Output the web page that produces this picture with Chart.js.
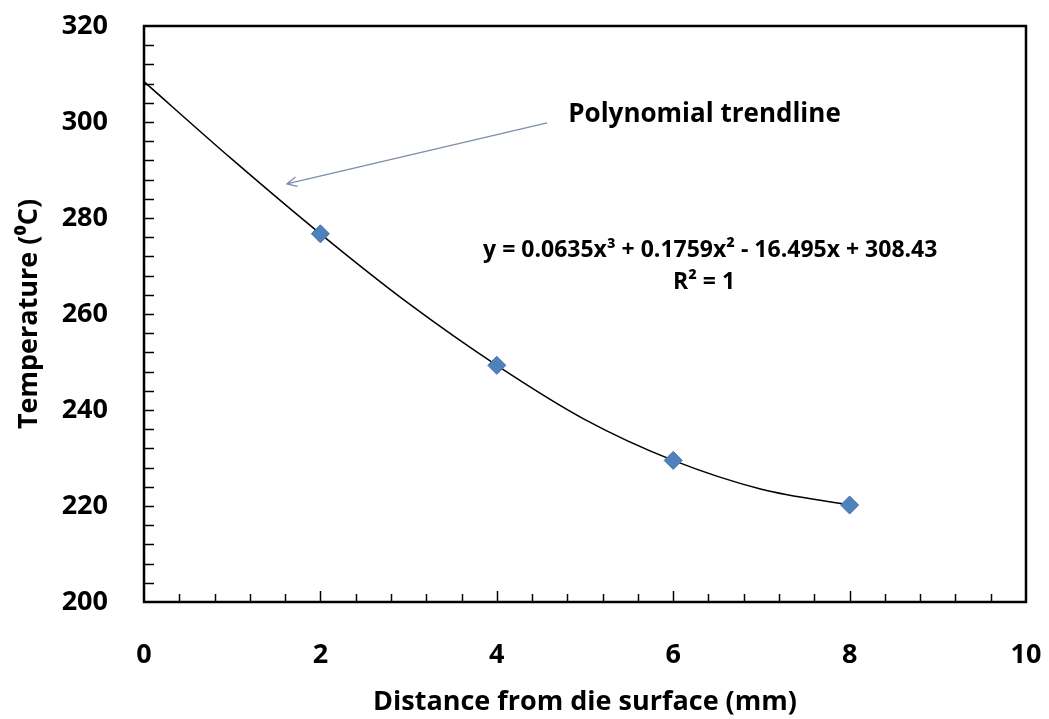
<!DOCTYPE html>
<html>
<head>
<meta charset="utf-8">
<script src="https://cdn.jsdelivr.net/npm/chart.js@4"></script>
<style>
  html, body { margin: 0; padding: 0; background: #fff; }
  #wrap { width: 1049px; height: 719px; }
</style>
</head>
<body>
<div id="wrap"><canvas id="chart" width="1049" height="719"></canvas></div>
<script>
// measured points (distance mm, temperature C)
const distances = [2, 4, 6, 8];
const temperatures = [276.7, 249.3, 229.5, 220.2];

// trendline
const trendX = [0, 1, 2, 3, 4, 5, 6, 7, 8];
const trendY = [308.4, 292.2, 276.7, 262.2, 249.3, 238.0, 229.5, 223.5, 220.2];

const xTicks = [0, 2, 4, 6, 8, 10];
const yTicks = [200, 220, 240, 260, 280, 300, 320];

const FONT = '"Open Sans", Lato, sans-serif';

// inward minor/major ticks, full box, arrow and the text labels
const extras = {
  id: 'extras',
  afterDraw(chart) {
    const { ctx, chartArea: a, scales: { x, y } } = chart;
    ctx.save();
    ctx.strokeStyle = '#000';
    ctx.lineWidth = 1.5;
    for (let v = 0.4; v < 10; v += 0.4) {
      const px = Math.round(x.getPixelForValue(v)) + 0.5;
      const major = Math.abs(v / 2 - Math.round(v / 2)) < 0.01;
      ctx.beginPath();
      ctx.moveTo(px, a.bottom);
      ctx.lineTo(px, a.bottom - (major ? 11 : 8));
      ctx.stroke();
    }
    for (let v = 204; v < 320; v += 4) {
      const py = Math.round(y.getPixelForValue(v)) + 0.5;
      ctx.beginPath();
      ctx.moveTo(a.left, py);
      ctx.lineTo(a.left + 10, py);
      ctx.stroke();
    }
    // frame
    ctx.lineWidth = 2.5;
    ctx.strokeRect(a.left, a.top, a.right - a.left, a.bottom - a.top);

    // arrow
    const x1 = x.getPixelForValue(4.57), y1 = y.getPixelForValue(299.8);
    const x2 = x.getPixelForValue(1.62), y2 = y.getPixelForValue(287.1);
    ctx.strokeStyle = '#7d8ea8';
    ctx.lineWidth = 1.3;
    ctx.beginPath();
    ctx.moveTo(x1, y1);
    ctx.lineTo(x2, y2);
    const ang = Math.atan2(y1 - y2, x1 - x2);
    ctx.moveTo(x2 + 11 * Math.cos(ang - 0.45), y2 + 11 * Math.sin(ang - 0.45));
    ctx.lineTo(x2, y2);
    ctx.lineTo(x2 + 11 * Math.cos(ang + 0.45), y2 + 11 * Math.sin(ang + 0.45));
    ctx.stroke();

    ctx.fillStyle = '#000';
    ctx.font = 'bold 26px ' + FONT;
    ctx.textBaseline = 'alphabetic';
    ctx.textAlign = 'left';
    ctx.fillText('Polynomial trendline', x.getPixelForValue(4.81), y.getPixelForValue(300.0));

    ctx.font = 'bold 23px ' + FONT;
    ctx.textBaseline = 'middle';
    ctx.textAlign = 'center';
    ctx.fillText('y = 0.0635x³ + 0.1759x² - 16.495x + 308.43', x.getPixelForValue(6.42), y.getPixelForValue(273.3));
    ctx.fillText('R² = 1', x.getPixelForValue(6.35), y.getPixelForValue(266.5));
    ctx.restore();
  }
};

new Chart(document.getElementById('chart'), {
  type: 'scatter',
  data: {
    datasets: [
      {
        label: 'Trendline',
        data: trendX.map((v, i) => ({ x: v, y: trendY[i] })),
        showLine: true,
        borderColor: '#000',
        borderWidth: 1.5,
        pointRadius: 0,
        cubicInterpolationMode: 'monotone',
        order: 2
      },
      {
        label: 'Temperature',
        data: distances.map((v, i) => ({ x: v, y: temperatures[i] })),
        pointStyle: 'rectRot',
        pointRadius: 9,
        backgroundColor: '#4f81bd',
        borderColor: '#3f6ea6',
        borderWidth: 1,
        order: 1
      }
    ]
  },
  options: {
    responsive: false,
    animation: false,
    layout: { padding: { left: 0, top: 26, right: 23, bottom: 0 } },
    plugins: { legend: { display: false }, tooltip: { enabled: false } },
    scales: {
      x: {
        type: 'linear',
        min: 0, max: 10,
        afterBuildTicks: s => { s.ticks = xTicks.map(v => ({ value: v })); },
        afterFit: s => { s.height = 117; s.paddingLeft = 0; s.paddingRight = 0; },
        grid: { display: false, drawTicks: false },
        border: { display: false },
        ticks: { color: '#000', padding: 37, maxRotation: 0, font: { family: FONT, size: 27, weight: 'bold' } },
        title: {
          display: true,
          text: 'Distance from die surface (mm)',
          color: '#000',
          padding: { top: 0, bottom: 0 },
          font: { family: FONT, size: 27, weight: 'bold' }
        }
      },
      y: {
        min: 200, max: 320,
        afterBuildTicks: s => { s.ticks = yTicks.map(v => ({ value: v })); },
        afterFit: s => { s.width = 144; s.paddingTop = 0; s.paddingBottom = 0; },
        grid: { display: false, drawTicks: false },
        border: { display: false },
        ticks: { color: '#000', padding: 36, font: { family: FONT, size: 27, weight: 'bold' } },
        title: {
          display: true,
          text: 'Temperature (⁰C)',
          color: '#000',
          padding: { top: 13, bottom: 0 },
          font: { family: FONT, size: 27, weight: 'bold' }
        }
      }
    }
  },
  plugins: [extras]
});
</script>
</body>
</html>
